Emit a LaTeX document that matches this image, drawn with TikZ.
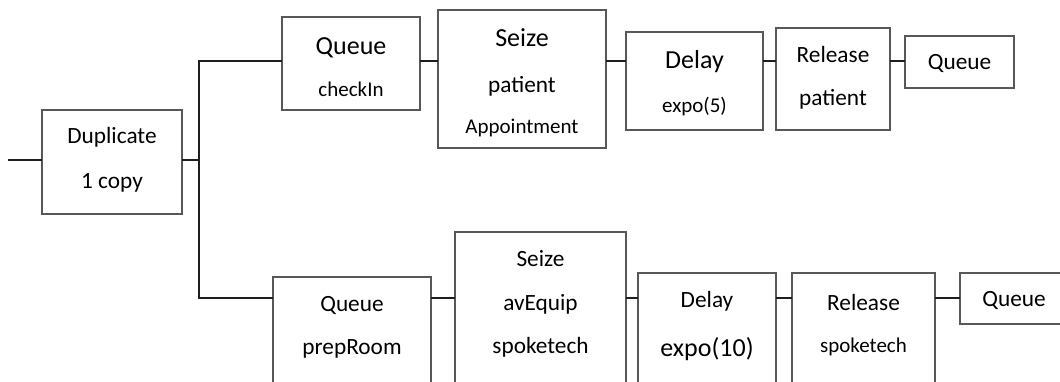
\documentclass[tikz,border=0pt]{standalone}
\usepackage{fontspec}
\setmainfont{Carlito}
\definecolor{boxline}{RGB}{88,88,88}
\definecolor{wire}{RGB}{30,30,30}
\tikzset{
  blk/.style n args={2}{draw=boxline, line width=1.3pt, inner sep=0pt, outer sep=0pt,
    minimum width=#1pt, minimum height=#2pt, fill=white},
  lbl/.style={inner sep=0pt, anchor=base, text=black},
  big/.style={lbl, font=\fontsize{26}{30}\selectfont},
  mid/.style={lbl, font=\fontsize{23.3}{28}\selectfont},
  sml/.style={lbl, font=\fontsize{21}{25}\selectfont},
  wireline/.style={draw=wire, line width=1.2pt}
}
\begin{document}
\begin{tikzpicture}[x=1pt, y=-1pt]
  \useasboundingbox (0,0) rectangle (1060,381);
  \clip (0,0) rectangle (1060,381);

  % row heights of the connectors
  \coordinate (toprow) at (0,61);
  \coordinate (lowrow) at (0,298);
  \coordinate (in) at (8,160);
  \coordinate (fork) at (199,160);

  % duplicate block
  \node[blk={140}{104}] (dup) at (112,162) {};
  \node[mid] (dupA) at (112,143) {Duplicate};
  \node[mid] (dupB) at (112,188) {1 copy};

  % upper branch
  \node[blk={138}{93}]  (q1) at (351,63.5) {};
  \node[blk={168}{138}] (s1) at (522,79) {};
  \node[blk={137}{98}]  (d1) at (694.5,81) {};
  \node[blk={114}{102}] (r1) at (833,79) {};
  \node[blk={109}{52}]  (e1) at (959.5,62) {};

  \node[big] (q1a) at (351,54) {Queue};
  \node[sml] (q1b) at (351,96) {checkIn};
  \node[big] (s1a) at (522,46) {Seize};
  \node[mid] (s1b) at (522,92) {patient};
  \node[sml] (s1c) at (522,133) {Appointment};
  \node[big] (d1a) at (694.5,68) {Delay};
  \node[sml] (d1b) at (694.5,112) {expo(5)};
  \node[mid] (r1a) at (833,62) {Release};
  \node[mid] (r1b) at (833,105) {patient};
  \node[mid] (e1a) at (959.5,69) {Queue};

  % lower branch
  \node[blk={158}{123}] (q2) at (352,338.5) {};
  \node[blk={171}{168}] (s2) at (540.5,316) {};
  \node[blk={138}{127}] (d2) at (707,336.5) {};
  \node[blk={143}{127}] (r2) at (863.5,336.5) {};
  \node[blk={108}{51}]  (e2) at (1014,298.5) {};

  \node[mid] (q2a) at (352,311) {Queue};
  \node[mid] (q2b) at (352,354) {prepRoom};
  \node[mid] (s2a) at (540.5,266) {Seize};
  \node[mid] (s2b) at (540.5,310) {avEquip};
  \node[mid] (s2c) at (540.5,353) {spoketech};
  \node[mid] (d2a) at (707,307) {Delay};
  \node[big] (d2b) at (707,356) {expo(10)};
  \node[mid] (r2a) at (863.5,310) {Release};
  \node[sml] (r2b) at (863.5,352) {spoketech};
  \node[mid] (e2a) at (1014,306) {Queue};

  % connectors
  \draw[wireline] (in) -- (in -| dup.west);
  \draw[wireline] (in -| dup.east) -- (fork);
  \draw[wireline] (fork) |- (q1.west |- toprow);
  \draw[wireline] (fork) |- (q2.west |- lowrow);

  \draw[wireline] (q1.east |- toprow) -- (s1.west |- toprow);
  \draw[wireline] (s1.east |- toprow) -- (d1.west |- toprow);
  \draw[wireline] (d1.east |- toprow) -- (r1.west |- toprow);
  \draw[wireline] (r1.east |- toprow) -- (e1.west |- toprow);

  \draw[wireline] (q2.east |- lowrow) -- (s2.west |- lowrow);
  \draw[wireline] (s2.east |- lowrow) -- (d2.west |- lowrow);
  \draw[wireline] (d2.east |- lowrow) -- (r2.west |- lowrow);
  \draw[wireline] (r2.east |- lowrow) -- (e2.west |- lowrow);
\end{tikzpicture}
\end{document}
